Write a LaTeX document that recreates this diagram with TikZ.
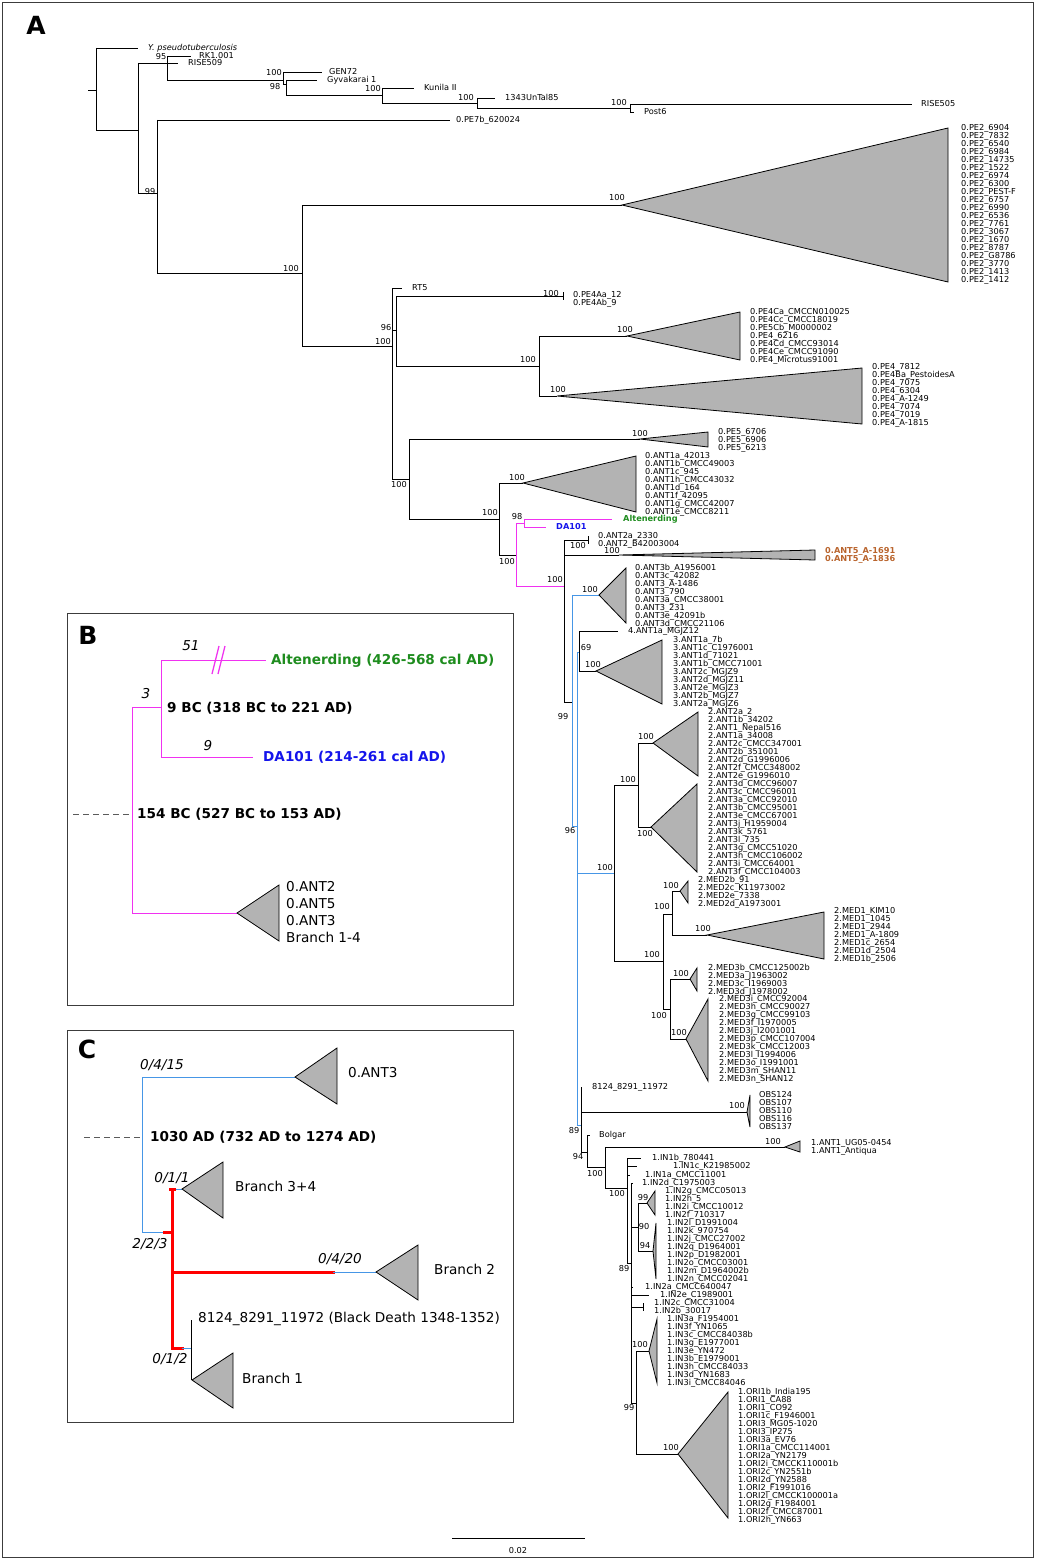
\documentclass[tikz,border=0pt]{standalone}
\usepackage{fontspec}
\setmainfont{DejaVu Sans}
\definecolor{mag}{RGB}{240,50,240}
\definecolor{lblue}{RGB}{70,150,230}
\definecolor{grn}{RGB}{30,140,30}
\definecolor{dblue}{RGB}{20,20,235}
\definecolor{brn}{RGB}{185,100,45}
\definecolor{trig}{RGB}{179,179,179}
\tikzset{
  tl/.style={line width=0.9pt, line cap=square, black},
  bl/.style={line width=0.9pt, line cap=square, lblue},
  ml/.style={line width=0.9pt, line cap=square, mag},
  rl/.style={line width=3pt, line cap=rect, red},
  trif/.style={fill=trig, draw=black, line width=0.8pt, line join=miter},
  lf/.style={font=\fontsize{8.2}{8}\selectfont, anchor=west, inner sep=0pt, text height=5.9pt, text depth=0pt},
  bs/.style={font=\fontsize{8.2}{8}\selectfont, anchor=center, inner sep=0pt, text height=5.9pt, text depth=0pt},
  pt/.style={font=\fontsize{13.6}{15}\selectfont, anchor=west, inner sep=0pt, text height=9.8pt, text depth=0pt},
  pb/.style={pt, font=\fontsize{13.6}{15}\selectfont\bfseries},
  pit/.style={font=\fontsize{13.6}{15}\selectfont\itshape, anchor=center, inner sep=0pt, text height=9.8pt, text depth=0pt},
  panlab/.style={font=\fontsize{25}{25}\selectfont\bfseries, anchor=center, inner sep=0pt},
  boxst/.style={draw={rgb,255:red,60;green,60;blue,60}, line width=1pt},
  dsh/.style={draw={rgb,255:red,90;green,90;blue,90}, line width=0.9pt, dash pattern=on 6pt off 4pt}
}
\newcommand{\Hl}[4][tl]{\draw[#1] (#2,#4) -- (#3,#4);}
\newcommand{\Vl}[4][tl]{\draw[#1] (#2,#3) -- (#2,#4);}
\newcommand{\Tri}[5]{\draw[trif] (#1,#2) -- (#3,#4) -- (#3,#5) -- cycle;}
\newcommand{\Sp}[3]{\node[bs] at (#1,#2) {#3};}
\newcommand{\Lf}[4][lf]{\node[#1] at (#2,#3) {#4};}
\newcommand{\Lst}[3]{\foreach \t [count=\i from 0] in {#3} {\node[lf] at (#1,#2+8*\i) {\t};}}
\begin{document}
\begin{tikzpicture}[x=1pt,y=-1pt]
\useasboundingbox (0,0) rectangle (1036,1560);
\draw[boxst] (2.5,2.5) rectangle (1033.5,1557.5);
\node[panlab] (labA) at (36,25) {A};

% ---------- top of tree ----------
\Hl{88}{96}{90} \Vl{96}{48}{130}
\Hl{96}{138}{48}
\Hl{96}{138}{130} \Vl{138}{63}{193}
\Hl{138}{178}{63}
\Vl{167}{56}{80} \Hl{167}{191}{56} \Hl{167}{283}{80}
\Vl{283}{72}{84} \Hl{283}{322}{72} \Hl{283}{286}{84}
\Vl{286}{80}{95} \Hl{286}{317}{80} \Hl{286}{382}{95}
\Vl{382}{88}{103} \Hl{382}{414}{88} \Hl{382}{477}{103}
\Vl{477}{98}{108} \Hl{477}{495}{98} \Hl{477}{630}{108}
\Vl{630}{104}{112} \Hl{630}{912}{104} \Hl{630}{634}{112}
\Hl{138}{157}{193} \Vl{157}{120}{273} \Hl{157}{450}{120}
\Hl{157}{302}{273} \Vl{302}{205}{346}
\Hl{302}{622}{205} \Tri{622}{205}{948}{128}{282}
\Hl{302}{392}{346} \Vl{392}{288}{479} \Hl{392}{402}{288}
\Hl{392}{396}{330} \Vl{396}{296}{366}
\Hl{396}{563}{296} \Vl{563}{292}{300}
\Hl{396}{539}{366} \Vl{539}{336}{396}
\Hl{539}{627}{336} \Tri{627}{336}{740}{312}{360}
\Hl{539}{557}{396} \Tri{557}{396}{862}{368}{424}
\Hl{392}{409}{479} \Vl{409}{439}{519}
\Hl{409}{640}{439} \Tri{640}{439}{708}{432}{447}
\Hl{409}{499}{519} \Vl{499}{483}{555}
\Hl{499}{523}{483} \Tri{523}{483}{636}{456}{512}
\Hl{499}{516}{555}
% magenta
\Vl[ml]{516}{523}{586} \Hl[ml]{516}{524}{523} \Vl[ml]{524}{519}{527}
\Hl[ml]{524}{612}{519} \Hl[ml]{524}{546}{527} \Hl[ml]{516}{564}{586}
% ANT2 / ANT5
\Vl{564}{540}{702} \Hl{564}{588}{540} \Vl{588}{536}{544}
\Hl{564}{619}{555} \Tri{619}{555}{815}{550}{560}
\Hl{564}{572}{702}
% blue part
\Vl[bl]{572}{595}{826} \Hl[bl]{572}{599}{595} \Tri{599}{595}{626}{568}{623}
\Hl[bl]{572}{577}{826} \Vl[bl]{577}{652}{1125} \Hl[bl]{577}{579}{652}
\Vl{579}{631}{671} \Hl{579}{618}{631} \Hl{579}{596}{671} \Tri{596}{671}{662}{640}{704}
\Hl[bl]{577}{614}{873}
\Vl{614}{785}{961}
\Hl{614}{638}{785} \Vl{638}{743}{827}
\Hl{638}{653}{743} \Tri{653}{743}{698}{712}{776}
\Hl{638}{651}{827} \Tri{651}{827}{697}{784}{872}
\Hl{614}{663}{961} \Vl{663}{914}{1009}
\Hl{663}{672}{914} \Vl{672}{891}{935}
\Hl{672}{680}{891} \Tri{680}{891}{688}{881}{903}
\Hl{672}{707}{935} \Tri{707}{935}{824}{912}{959}
\Hl{663}{670}{1009} \Vl{670}{979}{1039}
\Hl{670}{690}{979} \Tri{690}{979}{697}{968}{991}
\Hl{670}{686}{1039} \Tri{686}{1039}{708}{999}{1081}
\Hl[bl]{577}{581}{1125}
\Vl{581}{1087}{1152}
\Hl{581}{747}{1112} \Tri{747}{1112}{750}{1095}{1127}
\Hl{581}{587}{1152} \Vl{587}{1135}{1167} \Hl{587}{590}{1135}
\Hl{587}{605}{1167} \Vl{605}{1147}{1188}
\Hl{605}{785}{1147} \Tri{785}{1147}{800}{1141}{1152}
\Hl{605}{627}{1188} \Vl{627}{1158}{1263}
\Hl{627}{641}{1158} \Hl{627}{637}{1166} \Hl{627}{630}{1175}
\Hl{627}{631}{1263} \Vl{631}{1183}{1403}
\Hl{631}{633}{1183}
\Hl{631}{638}{1227} \Vl{638}{1203}{1251}
\Hl{638}{647}{1203} \Tri{647}{1203}{655}{1191}{1215}
\Hl{638}{653}{1251} \Tri{653}{1251}{656}{1223}{1279}
\Hl{631}{633}{1287} \Hl{631}{649}{1295} \Hl{631}{643}{1307} \Vl{643}{1303}{1311}
\Hl{631}{636}{1403} \Vl{636}{1351}{1454}
\Hl{636}{649}{1351} \Tri{649}{1351}{657}{1319}{1383}
\Hl{636}{678}{1454} \Tri{678}{1454}{728}{1392}{1518}
% scale bar
\Hl{452}{585}{1538}
\node[bs] (scl) at (518,1551) {0.02};

% ---------- leaf labels ----------
\node[lf, font=\fontsize{8.2}{8}\selectfont\itshape] (ypst) at (148,48) {Y. pseudotuberculosis};
\Lf{199}{56}{RK1.001}
\Lf{188}{63}{RISE509}
\Lf{329}{72}{GEN72}
\Lf{327}{80}{Gyvakarai 1}
\Lf{424}{88}{Kunila II}
\Lf{505}{98}{1343UnTal85}
\Lf{921}{104}{RISE505}
\Lf{644}{112}{Post6}
\Lf{456}{120}{0.PE7b\_620024}
\Lst{961}{128}{0.PE2\_6904,0.PE2\_7832,0.PE2\_6540,0.PE2\_6984,0.PE2\_14735,0.PE2\_1522,0.PE2\_6974,0.PE2\_6300,0.PE2\_PEST-F,0.PE2\_6757,0.PE2\_6990,0.PE2\_6536,0.PE2\_7761,0.PE2\_3067,0.PE2\_1670,0.PE2\_8787,0.PE2\_G8786,0.PE2\_3770,0.PE2\_1413,0.PE2\_1412}
\Lf{412}{288}{RT5}
\Lst{573}{295}{0.PE4Aa\_12,0.PE4Ab\_9}
\Lst{750}{312}{0.PE4Ca\_CMCCN010025,0.PE4Cc\_CMCC18019,0.PE5Cb\_M0000002,0.PE4\_6216,0.PE4Cd\_CMCC93014,0.PE4Ce\_CMCC91090,0.PE4\_Microtus91001}
\Lst{872}{367}{0.PE4\_7812,0.PE4Ba\_PestoidesA,0.PE4\_7075,0.PE4\_6304,0.PE4\_A-1249,0.PE4\_7074,0.PE4\_7019,0.PE4\_A-1815}
\Lst{718}{432}{0.PE5\_6706,0.PE5\_6906,0.PE5\_6213}
\Lst{645}{456}{0.ANT1a\_42013,0.ANT1b\_CMCC49003,0.ANT1c\_945,0.ANT1h\_CMCC43032,0.ANT1d\_164,0.ANT1f\_42095,0.ANT1g\_CMCC42007,0.ANT1e\_CMCC8211}
\node[lf, font=\fontsize{8.2}{8}\selectfont\bfseries, text=grn] (alt) at (623,519) {Altenerding};
\node[lf, font=\fontsize{8.2}{8}\selectfont\bfseries, text=dblue] (da) at (556,527) {DA101};
\Lst{598}{536}{0.ANT2a\_2330,0.ANT2\_B42003004}
\node[lf, font=\fontsize{8.2}{8}\selectfont\bfseries, text=brn] (a5a) at (825,551) {0.ANT5\_A-1691};
\node[lf, font=\fontsize{8.2}{8}\selectfont\bfseries, text=brn] (a5b) at (825,559) {0.ANT5\_A-1836};
\Lst{635}{568}{0.ANT3b\_A1956001,0.ANT3c\_42082,0.ANT3\_A-1486,0.ANT3\_790,0.ANT3a\_CMCC38001,0.ANT3\_231,0.ANT3e\_42091b,0.ANT3d\_CMCC21106}
\Lf{628}{631}{4.ANT1a\_MGJZ12}
\Lst{673}{640}{3.ANT1a\_7b,3.ANT1c\_C1976001,3.ANT1d\_71021,3.ANT1b\_CMCC71001,3.ANT2c\_MGJZ9,3.ANT2d\_MGJZ11,3.ANT2e\_MGJZ3,3.ANT2b\_MGJZ7,3.ANT2a\_MGJZ6}
\Lst{708}{712}{2.ANT2a\_2,2.ANT1b\_34202,2.ANT1\_Nepal516,2.ANT1a\_34008,2.ANT2c\_CMCC347001,2.ANT2b\_351001,2.ANT2d\_G1996006,2.ANT2f\_CMCC348002,2.ANT2e\_G1996010}
\Lst{708}{784}{2.ANT3d\_CMCC96007,2.ANT3c\_CMCC96001,2.ANT3a\_CMCC92010,2.ANT3b\_CMCC95001,2.ANT3e\_CMCC67001,2.ANT3j\_H1959004,2.ANT3k\_5761,2.ANT3l\_735,2.ANT3g\_CMCC51020,2.ANT3h\_CMCC106002,2.ANT3i\_CMCC64001,2.ANT3f\_CMCC104003}
\Lst{698}{880}{2.MED2b\_91,2.MED2c\_K11973002,2.MED2e\_7338,2.MED2d\_A1973001}
\Lst{834}{911}{2.MED1\_KIM10,2.MED1\_1045,2.MED1\_2944,2.MED1\_A-1809,2.MED1c\_2654,2.MED1d\_2504,2.MED1b\_2506}
\Lst{708}{968}{2.MED3b\_CMCC125002b,2.MED3a\_J1963002,2.MED3c\_I1969003,2.MED3d\_J1978002}
\Lst{719}{999}{2.MED3i\_CMCC92004,2.MED3h\_CMCC90027,2.MED3g\_CMCC99103,2.MED3f\_I1970005,2.MED3j\_I2001001,2.MED3p\_CMCC107004,2.MED3k\_CMCC12003,2.MED3l\_I1994006,2.MED3o\_I1991001,2.MED3m\_SHAN11,2.MED3n\_SHAN12}
\Lf{592}{1087}{8124\_8291\_11972}
\Lst{759}{1095}{OBS124,OBS107,OBS110,OBS116,OBS137}
\Lf{599}{1135}{Bolgar}
\Lst{811}{1143}{1.ANT1\_UG05-0454,1.ANT1\_Antiqua}
\Lf{652}{1158}{1.IN1b\_780441}
\Lf{673}{1166}{1.IN1c\_K21985002}
\Lf{645}{1175}{1.IN1a\_CMCC11001}
\Lf{642}{1183}{1.IN2d\_C1975003}
\Lst{665}{1191}{1.IN2g\_CMCC05013,1.IN2h\_5,1.IN2i\_CMCC10012,1.IN2f\_710317}
\Lst{667}{1223}{1.IN2l\_D1991004,1.IN2k\_970754,1.IN2j\_CMCC27002,1.IN2q\_D1964001,1.IN2p\_D1982001,1.IN2o\_CMCC03001,1.IN2m\_D1964002b,1.IN2n\_CMCC02041}
\Lf{645}{1287}{1.IN2a\_CMCC640047}
\Lf{660}{1295}{1.IN2e\_C1989001}
\Lst{654}{1303}{1.IN2c\_CMCC31004,1.IN2b\_30017}
\Lst{667}{1319}{1.IN3a\_F1954001,1.IN3f\_YN1065,1.IN3c\_CMCC84038b,1.IN3g\_E1977001,1.IN3e\_YN472,1.IN3b\_E1979001,1.IN3h\_CMCC84033,1.IN3d\_YN1683,1.IN3i\_CMCC84046}
\Lst{738}{1392}{1.ORI1b\_India195,1.ORI1\_CA88,1.ORI1\_CO92,1.ORI1c\_F1946001,1.ORI3\_MG05-1020,1.ORI3\_IP275,1.ORI3a\_EV76,1.ORI1a\_CMCC114001,1.ORI2a\_YN2179,1.ORI2i\_CMCCK110001b,1.ORI2c\_YN2551b,1.ORI2d\_YN2588,1.ORI2\_F1991016,1.ORI2l\_CMCCK100001a,1.ORI2g\_F1984001,1.ORI2f\_CMCC87001,1.ORI2h\_YN663}

% ---------- support values ----------
\Sp{161}{57}{95} \Sp{274}{73}{100} \Sp{275}{87}{98} \Sp{373}{89}{100}
\Sp{466}{98}{100} \Sp{619}{103}{100} \Sp{150}{192}{99} \Sp{617}{198}{100}
\Sp{291}{269}{100} \Sp{551}{294}{100} \Sp{386}{328}{96} \Sp{383}{342}{100}
\Sp{625}{330}{100} \Sp{528}{360}{100} \Sp{558}{390}{100} \Sp{640}{434}{100}
\Sp{399}{485}{100} \Sp{517}{478}{100} \Sp{490}{513}{100} \Sp{517}{517}{98}
\Sp{507}{562}{100} \Sp{578}{546}{100} \Sp{612}{551}{100} \Sp{555}{580}{100}
\Sp{590}{590}{100} \Sp{586}{648}{69} \Sp{593}{665}{100} \Sp{563}{717}{99}
\Sp{646}{737}{100} \Sp{628}{780}{100} \Sp{570}{831}{96} \Sp{645}{834}{100}
\Sp{605}{868}{100} \Sp{671}{886}{100} \Sp{662}{907}{100} \Sp{703}{929}{100}
\Sp{652}{955}{100} \Sp{681}{974}{100} \Sp{659}{1016}{100} \Sp{679}{1033}{100}
\Sp{737}{1106}{100} \Sp{574}{1131}{89} \Sp{773}{1142}{100} \Sp{578}{1157}{94}
\Sp{595}{1174}{100} \Sp{617}{1194}{100} \Sp{643}{1198}{99} \Sp{644}{1227}{90}
\Sp{645}{1246}{94} \Sp{624}{1269}{89} \Sp{640}{1345}{100} \Sp{629}{1408}{99}
\Sp{671}{1448}{100}

% ---------- panel B ----------
\draw[boxst] (67,613) rectangle (513,1005);
\node[panlab] (labB) at (88,635) {B};
\Vl[ml]{132}{707}{913} \Hl[ml]{132}{161}{707} \Vl[ml]{161}{660}{757}
\Hl[ml]{161}{266}{660} \Hl[ml]{161}{253}{757} \Hl[ml]{132}{237}{913}
\draw[mag, line width=1.3pt] (212,674) -- (219,646);
\draw[mag, line width=1.3pt] (218,674) -- (225,646);
\Tri{237}{913}{279}{885}{941}
\draw[dsh] (73,814) -- (130,814);
\node[pit] (b51) at (191,646) {51};
\node[pit] (b3) at (146,694) {3};
\node[pit] (b9) at (208,746) {9};
\node[pb, text=grn] (balt) at (271,660) {Altenerding (426-568 cal AD)};
\node[pb] (b9bc) at (167,708) {9 BC (318 BC to 221 AD)};
\node[pb, text=dblue] (bda) at (263,757) {DA101 (214-261 cal AD)};
\node[pb] (b154) at (137,814) {154 BC (527 BC to 153 AD)};
\node[pt] (bt1) at (286,887) {0.ANT2};
\node[pt] (bt2) at (286,904) {0.ANT5};
\node[pt] (bt3) at (286,921) {0.ANT3};
\node[pt] (bt4) at (286,938) {Branch 1-4};

% ---------- panel C ----------
\draw[boxst] (67,1030) rectangle (513,1422);
\node[panlab] (labC) at (87,1049) {C};
\Vl[bl]{142}{1077}{1232} \Hl[bl]{142}{295}{1077}
\Tri{295}{1077}{337}{1048}{1104}
\node[pt] (cant3) at (348,1073) {0.ANT3};
\node[pit] (c1) at (162,1065) {0/4/15};
\draw[dsh] (84,1137) -- (140,1137);
\node[pb] (c1030) at (150,1137) {1030 AD (732 AD to 1274 AD)};
\Hl[bl]{142}{164}{1232}
\draw[rl] (164,1232) -- (172,1232);
\draw[rl] (172,1189) -- (172,1348);
\Hl[bl]{174}{182}{1189}
\draw[rl] (170,1189) -- (174,1189);
\Tri{182}{1189}{223}{1162}{1218}
\node[pt] (cb34) at (235,1187) {Branch 3+4};
\node[pit] (c2) at (172,1178) {0/1/1};
\node[pit] (c3) at (150,1244) {2/2/3};
\draw[rl] (172,1272) -- (333,1272);
\Hl[bl]{333}{376}{1272}
\Tri{376}{1272}{418}{1245}{1300}
\node[pt] (cb2) at (434,1270) {Branch 2};
\node[pit] (c4) at (340,1259) {0/4/20};
\draw[rl] (172,1348) -- (182,1348);
\Hl[bl]{182}{191}{1348}
\Vl{191}{1320}{1380}
\Tri{192}{1380}{233}{1353}{1408}
\node[pt] (cbd) at (198,1318) {8124\_8291\_11972 (Black Death 1348-1352)};
\node[pt] (cb1) at (242,1379) {Branch 1};
\node[pit] (c5) at (170,1359) {0/1/2};
\end{tikzpicture}
\end{document}
